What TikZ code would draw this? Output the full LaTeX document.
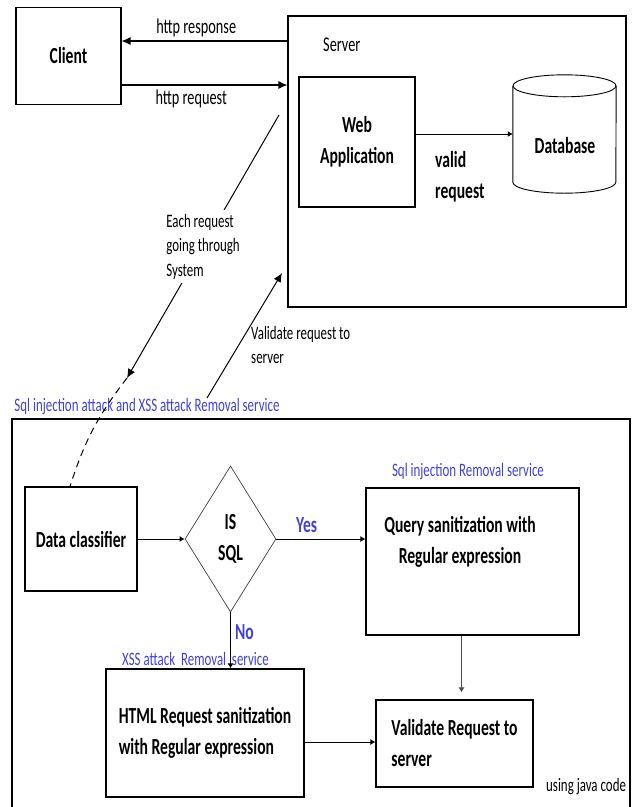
\documentclass[tikz,border=0pt]{standalone}
\usepackage{fontspec}
\setmainfont[FakeStretch=0.68]{Carlito}
\usepackage{xcolor}
\usepackage{tikz}
\usetikzlibrary{arrows.meta, calc, shapes.geometric}
\definecolor{svcblue}{RGB}{66,66,214}
\newcommand{\txtbold}{\fontsize{23}{31}\selectfont\bfseries}
\newcommand{\txthttp}{\fontsize{21}{26}\selectfont}
\newcommand{\txtnote}{\fontsize{19}{24.5}\selectfont}

\begin{document}
\begin{tikzpicture}[x=1pt, y=-1pt,
    box/.style={draw, line width=1.1pt, inner sep=0pt, font=\txtbold, align=center},
    arr/.style={-{Latex[length=9pt, width=8pt]}, line width=1.1pt},
    sarr/.style={-{Latex[length=5pt, width=6pt]}, line width=1pt},
    notetxt/.style={font=\txtnote, align=left, inner sep=1pt},
    bluelbl/.style={font=\txtnote, text=svcblue, inner sep=0pt},
    bluebold/.style={font=\txtbold, text=svcblue, inner sep=0pt}]
    \useasboundingbox (0,0) rectangle (634,807);

    \node[box, minimum width=105pt, minimum height=97pt] (client) at (68.5,56) {Client};
    \node[box, minimum width=338pt, minimum height=291pt] (server) at (457,161.5) {};
    \node[font=\txthttp, anchor=west, inner sep=0pt] (serverlbl) at (323,45) {Server};
    \node[box, minimum width=116pt, minimum height=130pt] (webapp) at (357,142) {Web\\Application};
    \node[minimum width=103pt, minimum height=96pt, inner sep=0pt] (db) at (564.5,134) {};
    \draw[line width=0.9pt] (db.north west) -- (db.south west)
        arc[start angle=180, end angle=360, x radius=51.5pt, y radius=11pt] -- (db.north east);
    \draw[line width=0.9pt] (db.north) ellipse [x radius=51.5pt, y radius=11pt];
    \node[font=\txtbold] (dbtxt) at (565,146) {Database};

    \draw[arr] ([yshift=15pt]client.east -| server.west) -- ([yshift=15pt]client.east)
        node[pos=0.55, above=4pt, font=\txthttp, inner sep=0pt] (resplbl) {http response};
    \draw[arr] ([yshift=-29pt]client.east) -- ([yshift=-29pt]client.east -| server.west)
        node[pos=0.42, below=4pt, font=\txthttp, inner sep=0pt] (reqlbl) {http request};
    \draw[sarr] (webapp.east |- db.west) -- (db.west);
    \node[font=\txtbold, align=left, anchor=west, inner sep=0pt] (validlbl) at (435,177) {valid\\request};

    \coordinate (reqin) at (279,115);
    \coordinate (reqout) at (127,378);
    \draw[arr, line width=1pt] (reqin) -- node[notetxt, fill=white, inner sep=4pt, pos=0.5] (each) {Each request\\going through\\System} (reqout);
    \coordinate (valin) at (207,398);
    \coordinate (valout) at (282,273);
    \draw[arr, line width=1pt] (valin) -- (valout);
    \node[notetxt, anchor=west] (vallbl) at (250,345) {Validate request to\\server};

    \node[bluelbl] (mainsvc) at (147,407) {Sql injection attack and XSS attack Removal service};
    \draw[line width=1.1pt] (12,807) -- (12,419) -- (630,419) -- (630,807);

    \node[box, minimum width=112pt, minimum height=104pt] (dc) at (81,539) {Data classifier};
    \node[diamond, draw=black!75, line width=0.7pt, minimum width=91pt, minimum height=146pt,
        inner sep=0pt, font=\txtbold, align=center] (issql) at (230.5,539) {IS\\SQL};
    \node[box, minimum width=213pt, minimum height=147pt] (query) at (472.5,561.5) {};
    \node[font=\txtbold, align=center] (querytxt) at (460,541.5) {Query sanitization with\\Regular expression};
    \node[box, align=left, minimum width=198pt, minimum height=128pt] (html) at (205,733) {HTML Request sanitization\\with Regular expression};
    \node[box, align=left, minimum width=157pt, minimum height=87pt] (valid) at (454.5,743.5) {Validate Request to\\server};

    \draw[dashed, dash pattern=on 7pt off 5pt, line width=1pt] (reqout) to[bend right=10] ([xshift=-11pt]dc.north);
    \draw[sarr] (dc.east) -- (issql.west);
    \draw[sarr] (issql.east) -- (issql.east -| query.west)
        node[bluebold, pos=0.34, above=6pt] (yes) {Yes};
    \draw[sarr] (issql.south) -- (issql.south |- html.north)
        node[bluebold, pos=0.35, right=4pt] (no) {No};
    \draw[sarr, draw=black!70, shorten >=7pt] ([xshift=-11pt]query.south) -- ([xshift=-11pt]query.south |- valid.north);
    \draw[sarr] ([yshift=-9pt]html.east) -- ([yshift=-9pt]html.east -| valid.west);

    \node[bluelbl] (sqlsvc) at (468,472) {Sql injection Removal service};
    \node[bluelbl] (xsssvc) at (195.5,659) {XSS attack\ \ Removal\ \ service};
    \node[notetxt, anchor=west] (javalbl) at (545,787) {using java code};
\end{tikzpicture}
\end{document}
